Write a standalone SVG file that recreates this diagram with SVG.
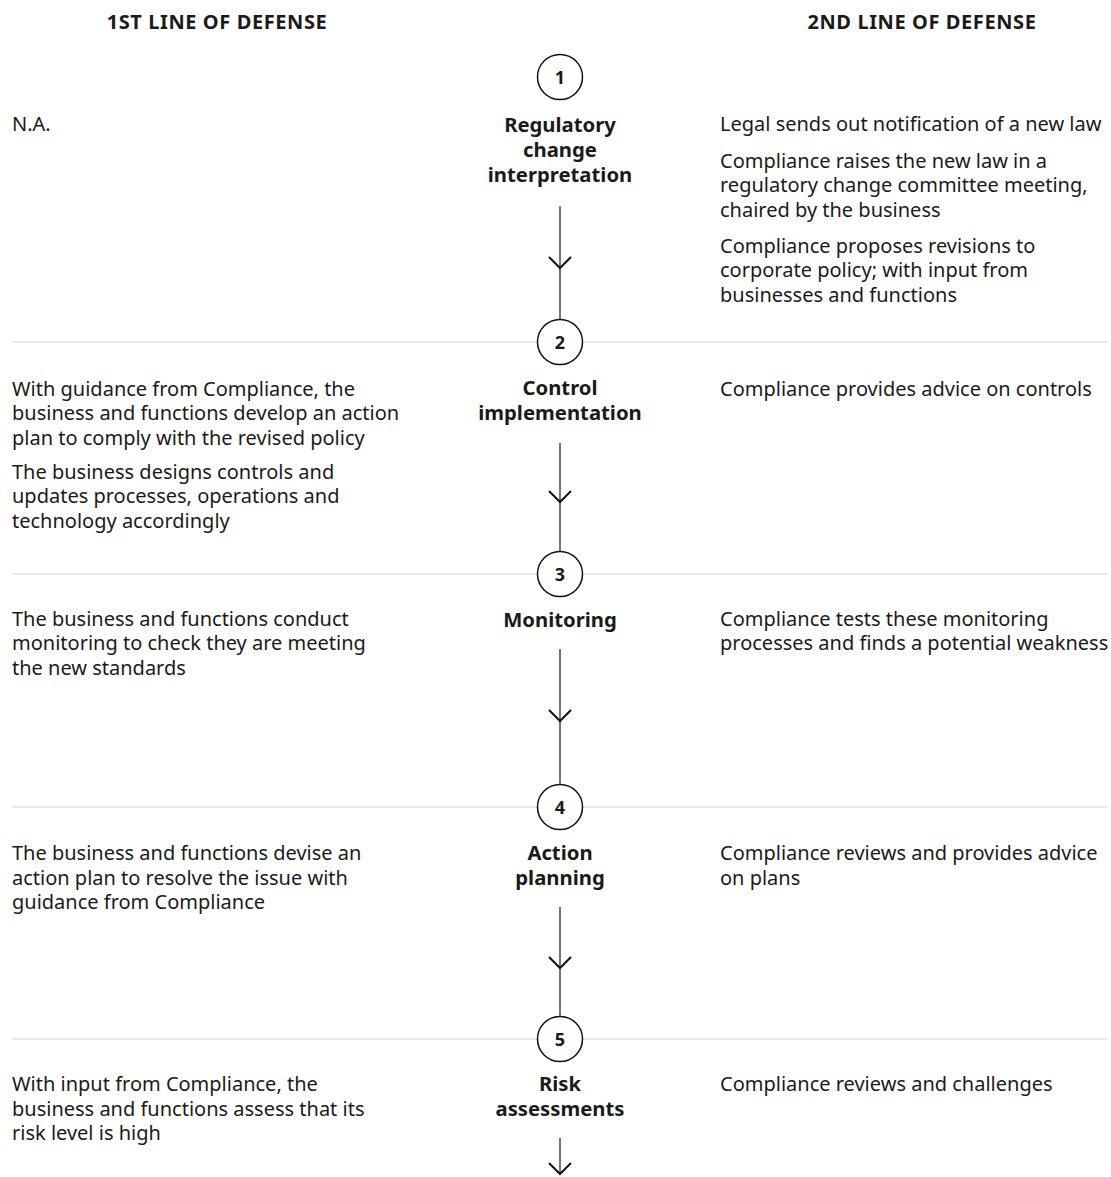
<svg xmlns="http://www.w3.org/2000/svg" xmlns:xlink="http://www.w3.org/1999/xlink" width="1111" height="1177" viewBox="0 0 1111 1177">
  <style>
    text { font-family: "Noto Sans", "Open Sans", sans-serif; fill: #1a1a1a; }
    .hdr { font-size: 20px; font-weight: 700; text-anchor: middle; letter-spacing: 0.6px; }
    .step { font-size: 20.3px; font-weight: 700; text-anchor: middle; }
    .num { font-size: 18px; font-weight: 700; text-anchor: middle; }
    .body { font-size: 20px; }
    .sep { stroke: #e2e2e2; stroke-width: 1.5; }
    .ring { fill: #fff; stroke: #111; stroke-width: 1.5; }
    .flow { stroke: #767676; stroke-width: 2; fill: none; }
    .chev { stroke: #111; stroke-width: 2; fill: none; }
  </style>
  <defs>
    <path id="chev" class="chev" d="M-11,-11 L0,0 L11,-11"/>
  </defs>
  <rect width="1111" height="1177" fill="#fff"/>

  <!-- column headings -->
  <g id="headers">
    <text class="hdr" x="217" y="29">1ST LINE OF DEFENSE</text>
    <text class="hdr" x="922" y="29">2ND LINE OF DEFENSE</text>
  </g>

  <!-- row separators -->
  <g id="separators">
    <line class="sep" x1="12" y1="342" x2="1108" y2="342"/>
    <line class="sep" x1="12" y1="574" x2="1108" y2="574"/>
    <line class="sep" x1="12" y1="807" x2="1108" y2="807"/>
    <line class="sep" x1="12" y1="1039" x2="1108" y2="1039"/>
  </g>

  <!-- vertical flow between steps -->
  <g id="connectors">
    <line class="flow" x1="560" y1="206" x2="560" y2="319"/>
    <use xlink:href="#chev" x="560" y="268"/>
    <line class="flow" x1="560" y1="443" x2="560" y2="551"/>
    <use xlink:href="#chev" x="560" y="502"/>
    <line class="flow" x1="560" y1="649" x2="560" y2="784"/>
    <use xlink:href="#chev" x="560" y="721"/>
    <line class="flow" x1="560" y1="907" x2="560" y2="1016"/>
    <use xlink:href="#chev" x="560" y="968"/>
    <line class="flow" x1="560" y1="1138" x2="560" y2="1174"/>
    <use xlink:href="#chev" x="560" y="1174"/>
  </g>

  <!-- step 1 -->
  <g id="step1">
    <circle class="ring" cx="560" cy="77" r="22.5"/>
    <text class="num" x="560" y="83.5">1</text>
    <text class="step" x="560" y="132">Regulatory</text>
    <text class="step" x="560" y="157">change</text>
    <text class="step" x="560" y="182">interpretation</text>
    <text class="body" x="12" y="131">N.A.</text>
    <text class="body" x="720" y="131">Legal sends out notification of a new law</text>
    <text class="body" x="720" y="167.5">Compliance raises the new law in a</text>
    <text class="body" x="720" y="192">regulatory change committee meeting,</text>
    <text class="body" x="720" y="216.5">chaired by the business</text>
    <text class="body" x="720" y="252.5">Compliance proposes revisions to</text>
    <text class="body" x="720" y="277">corporate policy; with input from</text>
    <text class="body" x="720" y="301.5">businesses and functions</text>
  </g>

  <!-- step 2 -->
  <g id="step2">
    <circle class="ring" cx="560" cy="342" r="22.5"/>
    <text class="num" x="560" y="348.5">2</text>
    <text class="step" x="560" y="395">Control</text>
    <text class="step" x="560" y="420">implementation</text>
    <text class="body" x="12" y="396">With guidance from Compliance, the</text>
    <text class="body" x="12" y="420">business and functions develop an action</text>
    <text class="body" x="12" y="444.5">plan to comply with the revised policy</text>
    <text class="body" x="12" y="479">The business designs controls and</text>
    <text class="body" x="12" y="503">updates processes, operations and</text>
    <text class="body" x="12" y="527.5">technology accordingly</text>
    <text class="body" x="720" y="396">Compliance provides advice on controls</text>
  </g>

  <!-- step 3 -->
  <g id="step3">
    <circle class="ring" cx="560" cy="574" r="22.5"/>
    <text class="num" x="560" y="580.5">3</text>
    <text class="step" x="560" y="627">Monitoring</text>
    <text class="body" x="12" y="626">The business and functions conduct</text>
    <text class="body" x="12" y="650">monitoring to check they are meeting</text>
    <text class="body" x="12" y="674.5">the new standards</text>
    <text class="body" x="720" y="626">Compliance tests these monitoring</text>
    <text class="body" x="720" y="650">processes and finds a potential weakness</text>
  </g>

  <!-- step 4 -->
  <g id="step4">
    <circle class="ring" cx="560" cy="807" r="22.5"/>
    <text class="num" x="560" y="813.5">4</text>
    <text class="step" x="560" y="860">Action</text>
    <text class="step" x="560" y="885">planning</text>
    <text class="body" x="12" y="860">The business and functions devise an</text>
    <text class="body" x="12" y="884.5">action plan to resolve the issue with</text>
    <text class="body" x="12" y="909">guidance from Compliance</text>
    <text class="body" x="720" y="860">Compliance reviews and provides advice</text>
    <text class="body" x="720" y="884.5">on plans</text>
  </g>

  <!-- step 5 -->
  <g id="step5">
    <circle class="ring" cx="560" cy="1039" r="22.5"/>
    <text class="num" x="560" y="1045.5">5</text>
    <text class="step" x="560" y="1091">Risk</text>
    <text class="step" x="560" y="1116">assessments</text>
    <text class="body" x="12" y="1091">With input from Compliance, the</text>
    <text class="body" x="12" y="1115.5">business and functions assess that its</text>
    <text class="body" x="12" y="1140">risk level is high</text>
    <text class="body" x="720" y="1091">Compliance reviews and challenges</text>
  </g>
</svg>
